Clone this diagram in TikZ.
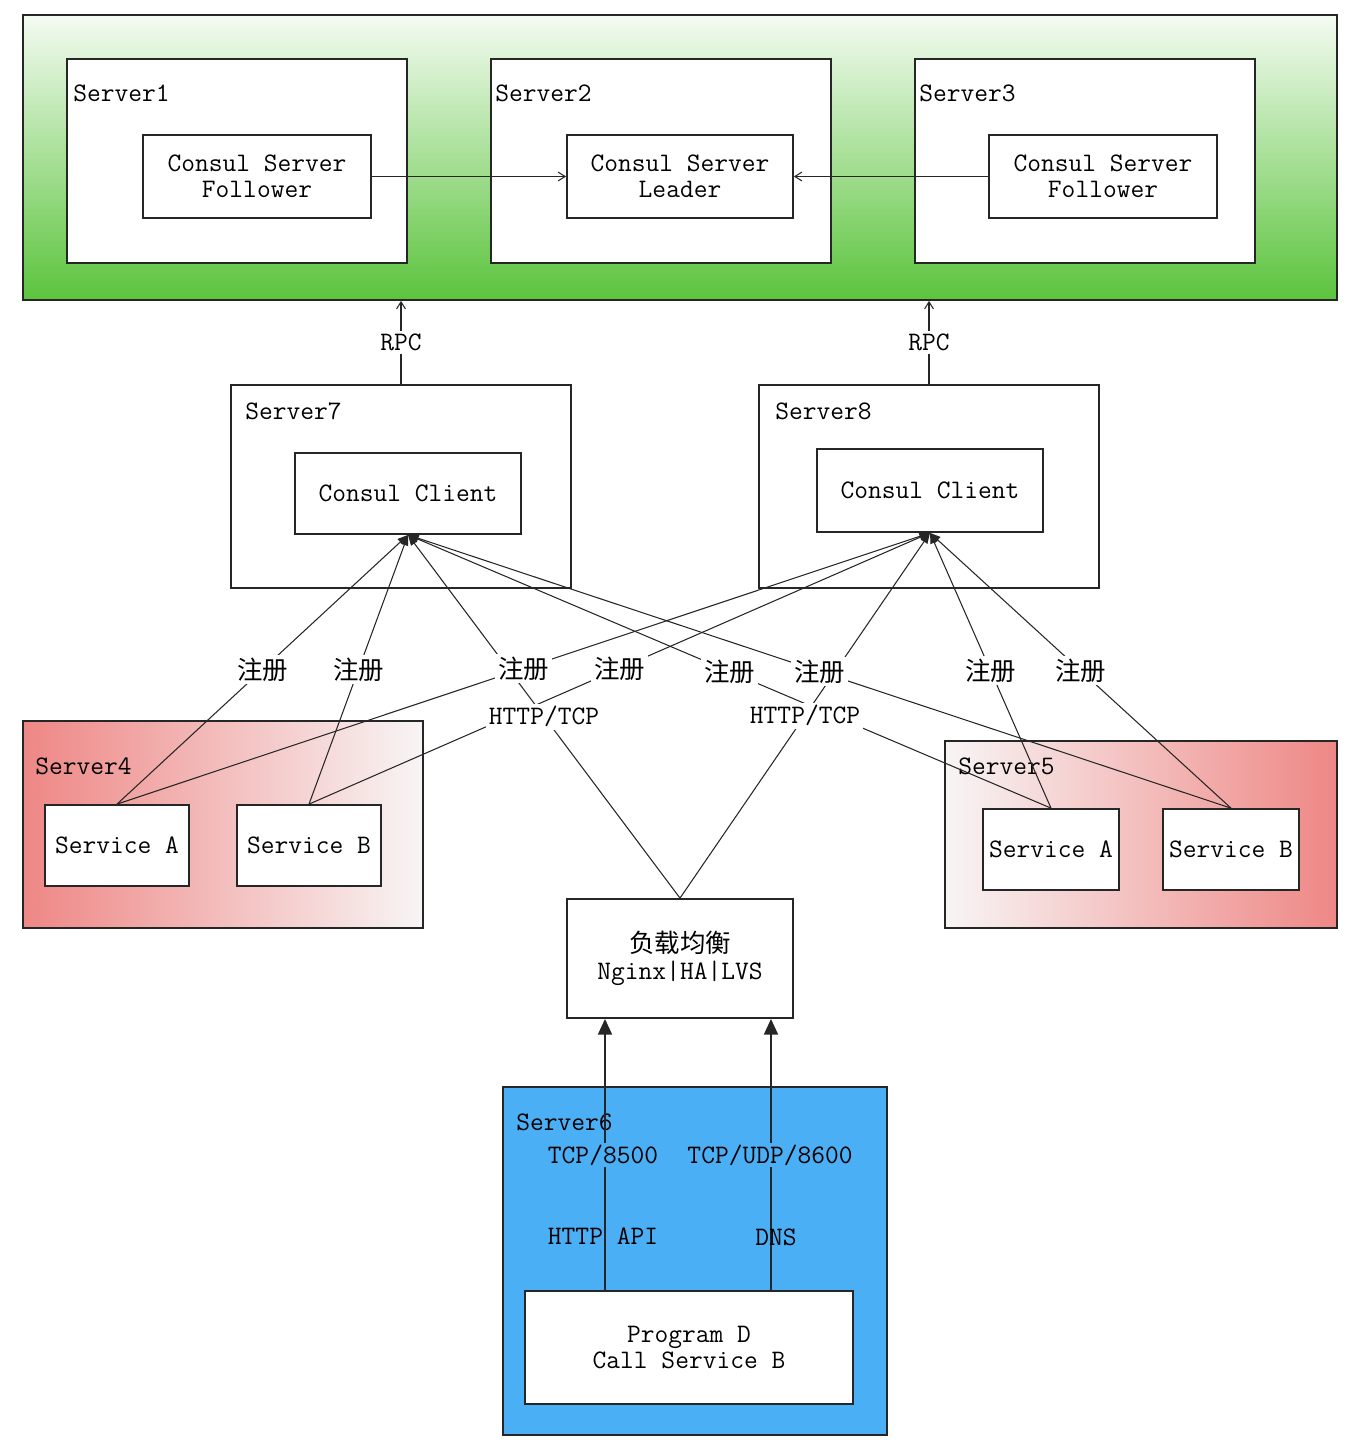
\documentclass[tikz,border=0pt]{standalone}
\usepackage{fontspec}
\newfontfamily\cjk{Noto Sans CJK SC}
\usetikzlibrary{arrows.meta,fit,calc}
\definecolor{grn}{HTML}{5BC43C}
\definecolor{grntop}{HTML}{F4FBF2}
\definecolor{rd}{HTML}{EE8785}
\definecolor{rdw}{HTML}{F8F5F5}
\definecolor{blu}{HTML}{4BAFF5}
\begin{document}
\begin{tikzpicture}[x=0.02cm,y=-0.02cm,
  font=\ttfamily\fontsize{15.2}{15}\selectfont,
  box/.style={draw=black!85, line width=1pt, inner sep=0pt, fill=white, align=center},
  frame/.style={draw=black!85, line width=1pt, inner sep=0pt},
  srv/.style={anchor=base west, inner sep=0pt},
  conn/.style={draw=black!85, line width=0.6pt},
  barb/.style={-{Straight Barb[length=4pt,width=5pt]}},
  tri/.style={-{Triangle[length=6pt,width=4.5pt]}},
  bigtri/.style={-{Triangle[length=9pt,width=8pt]}},
  lbl/.style={inner sep=1.5pt, fill=white},
  cj/.style={font=\cjk\fontsize{14.5}{15}\selectfont}]
\useasboundingbox (0,0) rectangle (1364,1448);

% top green area
\node[frame, fit={(23,15) (1337,300)}, top color=grntop, bottom color=grn] (green) {};
\node[box, fit={(67,59) (407,263)}] (s1) {};
\node[box, fit={(491,59) (831,263)}] (s2) {};
\node[box, fit={(915,59) (1255,263)}] (s3) {};
\node[srv] at (73,101) {Server1};
\node[srv] at (495,101) {Server2};
\node[srv] at (919,101) {Server3};
\node[box, fit={(143,135) (371,218)}] (f1) {};
\node[box, fit={(567,135) (793,218)}] (ld) {};
\node[box, fit={(989,135) (1217,218)}] (f3) {};
\node[align=center] at (f1.center) {Consul Server\\Follower};
\node[align=center] at (ld.center) {Consul Server\\Leader};
\node[align=center] at (f3.center) {Consul Server\\Follower};
\draw[conn, barb] (f1.east) -- (ld.west);
\draw[conn, barb] (f3.west) -- (ld.east);

% clients
\node[box, fit={(231,385) (571,588)}] (s7) {};
\node[box, fit={(759,385) (1099,588)}] (s8) {};
\node[srv] at (245,419) {Server7};
\node[srv] at (775,419) {Server8};
\node[box, fit={(295,453) (521,534)}] (c7) {};
\node[box, fit={(817,449) (1043,532)}] (c8) {};
\node at (c7.center) {Consul Client};
\node at (c8.center) {Consul Client};
\coordinate (x401) at (401,0);
\coordinate (x929) at (929,0);
\draw[conn, barb] (s7.north -| x401) -- node[lbl]{RPC} (green.south -| x401);
\draw[conn, barb] (s8.north -| x929) -- node[lbl]{RPC} (green.south -| x929);

% Server4
\node[frame, fit={(23,721) (423,928)}, left color=rd, right color=rdw] (s4) {};
\node[srv] at (35,774) {Server4};
\node[box, fit={(45,805) (189,886)}] (s4a) {};
\node[box, fit={(237,805) (381,886)}] (s4b) {};
\node at (s4a.center) {Service A};
\node at (s4b.center) {Service B};

% Server5
\node[frame, fit={(945,741) (1337,928)}, left color=rdw, right color=rd] (s5) {};
\node[srv] at (958,774) {Server5};
\node[box, fit={(983,809) (1119,890)}] (s5a) {};
\node[box, fit={(1163,809) (1299,890)}] (s5b) {};
\node at (s5a.center) {Service A};
\node at (s5b.center) {Service B};

% load balancer
\node[box, fit={(567,899) (793,1018)}] (lb) {};
\node[align=center] at (lb.center) {{\cjk\fontsize{14.5}{15}\selectfont 负载均衡}\\Nginx|HA|LVS};

% Server6
\node[frame, fit={(503,1087) (887,1435)}, fill=blu] (s6) {};
\node[srv] at (516,1130) {Server6};
\node[box, fit={(525,1291) (853,1404)}] (pd) {};
\node[align=center] at (pd.center) {Program D\\Call Service B};
\coordinate (x605) at (605,0);
\coordinate (x771) at (771,0);
\draw[conn, line width=1.1pt, bigtri] (pd.north -| x605) -- (lb.south -| x605);
\draw[conn, line width=1.1pt, bigtri] (pd.north -| x771) -- (lb.south -| x771);
\node[inner sep=1pt, fill=blu] at (603,1155) {TCP/8500};
\node[inner sep=1pt, fill=blu] at (770,1155) {TCP/UDP/8600};
\node at (603,1236) {HTTP API};
\node at (776,1237) {DNS};

% registration / http connectors
\foreach \c in {c7,c8}{
  \foreach \s in {s4a,s4b,lb,s5a,s5b}{
    \draw[conn, tri] (\s.north) -- (\c.south);
  }
}
\foreach \c in {c7,c8}{
  \foreach \s in {s4a,s4b,s5a,s5b}{
    \node[lbl, cj] at ($(\s.north)!0.5!(\c.south)$) {注册};
  }
  \node[lbl] at ($(lb.north)!0.5!(\c.south)$) {HTTP/TCP};
}
\end{tikzpicture}
\end{document}
